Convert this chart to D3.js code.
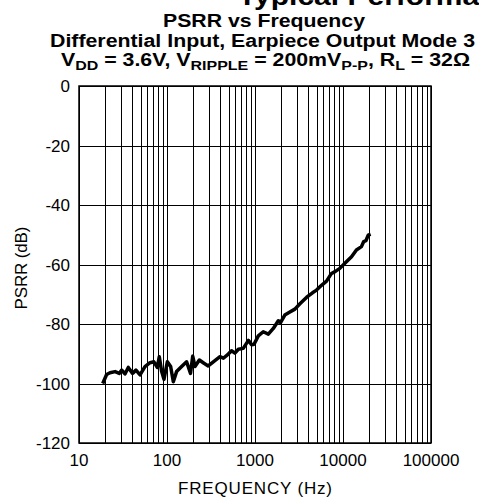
<!DOCTYPE html>
<meta charset="utf-8">
<style>
  body { margin: 0; background: #fff; }
  svg { display: block; font-family: "Liberation Sans", Arial, sans-serif; }
  .grid line { stroke: #000; stroke-width: 1; shape-rendering: crispEdges; }
  .grid path { display: none; }
  .tick-label { font-size: 17px; fill: #000; }
  .title { font-weight: bold; fill: #000; }
</style>
<svg width="479" height="497"></svg>
<script src="https://d3js.org/d3.v7.min.js"></script>
<script>
// data
var freq = [18.6, 20.6, 22.5, 25.7, 28.7, 30.6, 33.3, 36.3, 40.6, 44.4, 49.4, 56.2, 64.1, 71, 77.5,
  81.7, 87, 92.4, 100.9, 110, 118, 128.5, 146.7, 167, 185, 196, 208, 233, 263, 294, 336, 400, 437,
  497, 541, 591, 647, 735, 842, 915, 975, 1090, 1240, 1417, 1615, 1840, 1950, 2180, 2490, 2840,
  3240, 3870, 4500, 5000, 5700, 6500, 7400, 8200, 9200, 10500, 12500, 14200, 16200, 17200, 18200,
  19400, 20600];
var psrr = [-100, -97, -96.4, -96, -96.6, -95.5, -96.8, -94.6, -96.6, -95.5, -97.1, -94.3, -93, -92.7, -94.6,
  -91, -96, -98.6, -92.7, -94.3, -99.4, -96, -94.3, -92.7, -96.6, -90.8, -94.3, -92.1, -93.2, -94.1, -92.7, -91, -91.5,
  -90.1, -89, -89.8, -88.5, -88.2, -85.5, -87, -86.8, -84, -82.6, -83.4, -81.5, -78.9, -79.5, -77, -76, -75,
  -73.2, -71, -69.5, -68.6, -67, -65.6, -63, -62.3, -61.3, -59.6, -57.4, -55.1, -54, -52.3, -52,
  -50.1, -49.8];

var xDecades = [10, 100, 1000, 10000, 100000];
var yTicks = [0, -20, -40, -60, -80, -100, -120];

var svg = d3.select("svg");
var margin = {left: 79, right: 48, top: 86, bottom: 54};
var width = 479 - margin.left - margin.right,
    height = 497 - margin.top - margin.bottom;

var x = d3.scaleLog().domain([10, 100000]).range([0, width]);
var y = d3.scaleLinear().domain([-120, 0]).range([height, 0]);

// minor + major vertical lines
var xGrid = [];
xDecades.slice(0, -1).forEach(function(d) {
  for (var k = 1; k < 10; k++) xGrid.push(d * k);
});
xGrid.push(100000);

var g = svg.append("g").attr("transform", "translate(" + margin.left + "," + margin.top + ")");

g.append("g").attr("class", "grid")
  .attr("transform", "translate(0," + height + ")")
  .call(d3.axisBottom(x).tickValues(xGrid).tickSize(-height).tickFormat(""));

g.append("g").attr("class", "grid")
  .call(d3.axisLeft(y).tickValues(yTicks).tickSize(-width).tickFormat(""));

g.append("rect")
  .attr("width", width).attr("height", height)
  .attr("fill", "none").attr("stroke", "#000").attr("stroke-width", 1.5);

// tick labels
g.selectAll(".ylab").data(yTicks).enter().append("text")
  .attr("class", "tick-label")
  .attr("x", -9).attr("y", function(d) { return y(d) + 6; })
  .attr("text-anchor", "end")
  .text(function(d) { return d; });

g.selectAll(".xlab").data(xDecades).enter().append("text")
  .attr("class", "tick-label")
  .attr("x", function(d) { return x(d); }).attr("y", height + 23)
  .attr("text-anchor", "middle")
  .text(function(d) { return d; });

// curve
var line = d3.line()
  .x(function(d, i) { return x(freq[i]); })
  .y(function(d) { return y(d); });

g.append("path")
  .datum(psrr)
  .attr("fill", "none")
  .attr("stroke", "#000")
  .attr("stroke-width", 3.5)
  .attr("stroke-linejoin", "round")
  .attr("d", line);

// axis titles
svg.append("text")
  .attr("x", 255).attr("y", 494)
  .attr("text-anchor", "middle")
  .attr("font-size", 17)
  .attr("textLength", 154)
  .text("FREQUENCY (Hz)");

svg.append("text")
  .attr("transform", "translate(27,268) rotate(-90)")
  .attr("text-anchor", "middle")
  .attr("font-size", 17)
  .attr("textLength", 83)
  .text("PSRR (dB)");

// titles
svg.append("text").attr("class", "title")
  .attr("x", 238).attr("y", 5)
  .attr("font-size", 26)
  .attr("textLength", 518).attr("lengthAdjust", "spacingAndGlyphs")
  .text("Typical Performance Characteristics");

svg.append("text").attr("class", "title")
  .attr("x", 264).attr("y", 26.5)
  .attr("text-anchor", "middle")
  .attr("font-size", 18)
  .attr("textLength", 202).attr("lengthAdjust", "spacingAndGlyphs")
  .text("PSRR vs Frequency");

svg.append("text").attr("class", "title")
  .attr("x", 262.5).attr("y", 46.5)
  .attr("text-anchor", "middle")
  .attr("font-size", 18)
  .attr("textLength", 425).attr("lengthAdjust", "spacingAndGlyphs")
  .text("Differential Input, Earpiece Output Mode 3");

var t3 = svg.append("text").attr("class", "title")
  .attr("x", 265.5).attr("y", 66)
  .attr("text-anchor", "middle")
  .attr("font-size", 18)
  .attr("textLength", 409).attr("lengthAdjust", "spacingAndGlyphs");
var parts = [["V", 0], ["DD", 1], [" = 3.6V, V", 0], ["RIPPLE", 1], [" = 200mV", 0], ["P-P", 1],
             [", R", 0], ["L", 1], [" = 32\u03A9", 0]];
parts.forEach(function(p, i) {
  var prev = i > 0 ? parts[i - 1][1] : 0;
  t3.append("tspan")
    .attr("font-size", p[1] ? 13.5 : 18)
    .attr("dy", p[1] === prev ? 0 : (p[1] ? 4 : -4))
    .text(p[0]);
});
</script>
